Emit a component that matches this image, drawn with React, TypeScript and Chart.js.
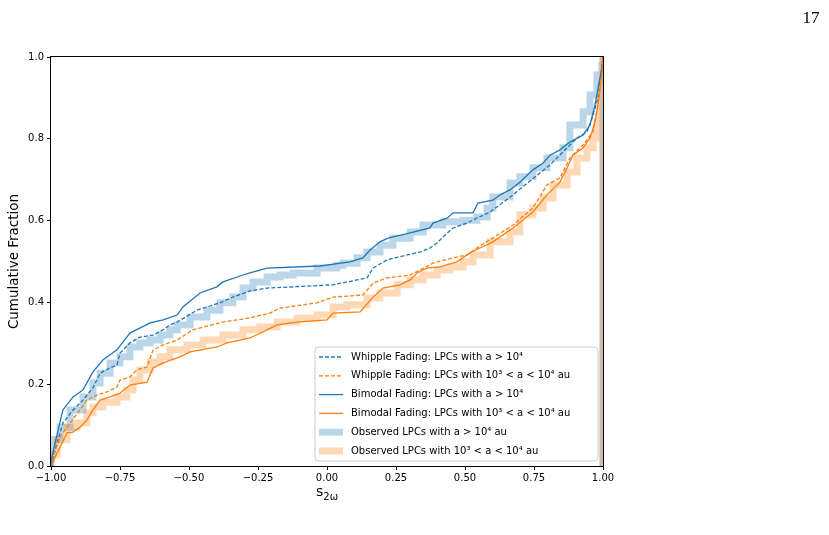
import { useEffect, useRef } from "react";
import { Chart, registerables } from "chart.js";

Chart.register(...registerables);

const BLUE = "#1f77b4";
const ORANGE = "#ff7f0e";
const BLUE_BAND = "rgba(31,119,180,0.3)";
const ORANGE_BAND = "rgba(255,127,14,0.3)";

// Axis ticks
const xTicks = [-1, -0.75, -0.5, -0.25, 0, 0.25, 0.5, 0.75, 1];
const yTicks = [0, 0.2, 0.4, 0.6, 0.8, 1];

// Whipple fading, a > 10^4
const whippleFarX = [-1, -0.978, -0.957, -0.92, -0.884, -0.848, -0.822, -0.786, -0.761, -0.75, -0.714, -0.678, -0.63, -0.594, -0.569, -0.543, -0.471, -0.388, -0.341, -0.279, -0.217, 0.022, 0.109, 0.145, 0.167, 0.217, 0.29, 0.337, 0.373, 0.399, 0.42, 0.457, 0.507, 0.543, 0.591, 0.674, 0.761, 0.808, 0.855, 0.906, 0.942, 0.964, 0.982, 1];
const whippleFarY = [0, 0.056, 0.105, 0.137, 0.161, 0.191, 0.227, 0.24, 0.247, 0.276, 0.301, 0.315, 0.32, 0.333, 0.345, 0.352, 0.381, 0.399, 0.413, 0.428, 0.435, 0.443, 0.455, 0.46, 0.484, 0.504, 0.516, 0.523, 0.533, 0.545, 0.56, 0.582, 0.594, 0.606, 0.621, 0.663, 0.711, 0.736, 0.768, 0.802, 0.817, 0.858, 0.9, 1];

// Whipple fading, 10^3 < a < 10^4 au
const whippleNearX = [-1, -0.993, -0.967, -0.931, -0.895, -0.87, -0.833, -0.797, -0.761, -0.75, -0.714, -0.688, -0.652, -0.63, -0.594, -0.543, -0.486, -0.377, -0.279, -0.207, -0.17, -0.036, 0.022, 0.13, 0.167, 0.217, 0.301, 0.337, 0.384, 0.457, 0.507, 0.543, 0.674, 0.746, 0.797, 0.844, 0.88, 0.928, 0.964, 0.982, 1];
const whippleNearY = [0, 0.022, 0.071, 0.105, 0.137, 0.161, 0.174, 0.181, 0.193, 0.21, 0.218, 0.235, 0.242, 0.284, 0.296, 0.308, 0.333, 0.352, 0.362, 0.374, 0.386, 0.399, 0.413, 0.418, 0.447, 0.46, 0.467, 0.479, 0.496, 0.509, 0.516, 0.533, 0.589, 0.631, 0.687, 0.704, 0.753, 0.785, 0.817, 0.883, 1];

// Bimodal fading, a > 10^4
const bimodalFarX = [-1, -0.997, -0.957, -0.92, -0.884, -0.848, -0.812, -0.761, -0.714, -0.641, -0.594, -0.543, -0.522, -0.46, -0.399, -0.377, -0.304, -0.279, -0.217, -0.025, 0.083, 0.13, 0.156, 0.192, 0.221, 0.301, 0.373, 0.384, 0.435, 0.457, 0.529, 0.547, 0.601, 0.627, 0.663, 0.699, 0.725, 0.746, 0.783, 0.808, 0.844, 0.88, 0.928, 0.953, 0.964, 0.971, 0.982, 0.996, 1];
const bimodalFarY = [0, 0.022, 0.137, 0.169, 0.186, 0.23, 0.259, 0.284, 0.325, 0.35, 0.357, 0.369, 0.389, 0.423, 0.438, 0.45, 0.467, 0.472, 0.484, 0.489, 0.499, 0.509, 0.528, 0.548, 0.557, 0.57, 0.582, 0.594, 0.606, 0.619, 0.619, 0.643, 0.65, 0.663, 0.675, 0.694, 0.711, 0.724, 0.741, 0.76, 0.773, 0.792, 0.809, 0.834, 0.863, 0.883, 0.924, 0.973, 1];

// Bimodal fading, 10^3 < a < 10^4 au
const bimodalNearX = [-1, -0.978, -0.967, -0.942, -0.92, -0.895, -0.87, -0.848, -0.822, -0.786, -0.75, -0.714, -0.652, -0.63, -0.594, -0.533, -0.496, -0.399, -0.362, -0.279, -0.217, -0.181, -0.109, 0, 0.022, 0.12, 0.167, 0.203, 0.264, 0.301, 0.326, 0.362, 0.409, 0.471, 0.518, 0.554, 0.601, 0.674, 0.746, 0.797, 0.844, 0.87, 0.891, 0.928, 0.953, 0.971, 0.982, 0.996, 1];
const bimodalNearY = [0, 0.032, 0.046, 0.081, 0.083, 0.095, 0.112, 0.137, 0.161, 0.169, 0.178, 0.198, 0.205, 0.24, 0.252, 0.267, 0.279, 0.291, 0.301, 0.313, 0.333, 0.345, 0.352, 0.357, 0.374, 0.377, 0.413, 0.435, 0.443, 0.455, 0.472, 0.484, 0.487, 0.499, 0.521, 0.533, 0.548, 0.582, 0.621, 0.663, 0.694, 0.729, 0.76, 0.778, 0.802, 0.841, 0.883, 0.956, 1];

// Observed LPCs, a > 10^4 au
const observedFarX = [-1, -1, -0.993, -0.967, -0.931, -0.884, -0.848, -0.822, -0.786, -0.75, -0.714, -0.678, -0.641, -0.605, -0.569, -0.543, -0.496, -0.435, -0.388, -0.341, -0.304, -0.268, -0.217, -0.17, -0.123, -0.036, 0.036, 0.058, 0.109, 0.145, 0.192, 0.239, 0.301, 0.348, 0.42, 0.493, 0.543, 0.58, 0.601, 0.663, 0.699, 0.746, 0.797, 0.855, 0.88, 0.928, 0.953, 0.978, 0.996, 1, 1];
const observedFarY = [0, 0.051, 0.064, 0.095, 0.137, 0.169, 0.203, 0.227, 0.252, 0.267, 0.291, 0.301, 0.308, 0.32, 0.333, 0.345, 0.364, 0.381, 0.399, 0.413, 0.435, 0.45, 0.462, 0.467, 0.472, 0.484, 0.491, 0.496, 0.509, 0.523, 0.54, 0.557, 0.572, 0.589, 0.597, 0.601, 0.609, 0.631, 0.658, 0.692, 0.707, 0.729, 0.753, 0.778, 0.834, 0.866, 0.907, 0.956, 0.98, 1, 0];

// Observed LPCs, 10^3 < a < 10^4 au
const observedNearX = [-1, -1, -0.978, -0.942, -0.906, -0.87, -0.848, -0.812, -0.761, -0.725, -0.703, -0.678, -0.641, -0.605, -0.569, -0.507, -0.449, -0.377, -0.304, -0.243, -0.181, -0.109, -0.036, 0.022, 0.072, 0.145, 0.192, 0.254, 0.301, 0.348, 0.399, 0.446, 0.493, 0.529, 0.591, 0.663, 0.699, 0.746, 0.783, 0.819, 0.87, 0.906, 0.942, 0.964, 0.978, 0.989, 1, 1, 1];
const observedNearY = [0, 0.027, 0.064, 0.095, 0.105, 0.13, 0.144, 0.156, 0.169, 0.186, 0.21, 0.235, 0.254, 0.267, 0.284, 0.296, 0.308, 0.32, 0.333, 0.34, 0.352, 0.362, 0.369, 0.389, 0.394, 0.411, 0.423, 0.443, 0.455, 0.467, 0.479, 0.487, 0.499, 0.516, 0.548, 0.572, 0.614, 0.631, 0.655, 0.687, 0.719, 0.753, 0.778, 0.802, 0.841, 0.9, 0.973, 1, 0];

const points = (xs: number[], ys: number[]) => xs.map((x, i) => ({ x, y: ys[i] }));

const FONT = "'DejaVu Sans', sans-serif";

const fmtX = (v: number) => Number(v).toFixed(2).replace("-", "\u2212");
const fmtY = (v: number) => Number(v).toFixed(1).replace("-", "\u2212");

// Frame, axis titles, legend box and the page number
const decorations = {
  id: "decorations",
  afterDatasetsDraw(chart: any) {
    const { ctx, chartArea: a } = chart;
    ctx.save();
    ctx.strokeStyle = "#000";
    ctx.lineWidth = 1;
    ctx.setLineDash([]);
    ctx.strokeRect(a.left - 0.5, a.top - 0.5, a.right - a.left + 1, a.bottom - a.top + 1);
    ctx.restore();
  },
  afterDraw(chart: any) {
    const { ctx, chartArea: a } = chart;
    ctx.save();

    // y axis title
    ctx.fillStyle = "#000";
    ctx.font = `13.5px ${FONT}`;
    ctx.textAlign = "center";
    ctx.textBaseline = "middle";
    ctx.translate(14, (a.top + a.bottom) / 2);
    ctx.rotate(-Math.PI / 2);
    ctx.fillText("Cumulative Fraction", 0, 0);
    ctx.setTransform(1, 0, 0, 1, 0, 0);

    // x axis title: s with subscript 2ω
    const cx = (a.left + a.right) / 2;
    ctx.textAlign = "left";
    ctx.textBaseline = "alphabetic";
    ctx.font = `14px ${FONT}`;
    const sW = ctx.measureText("s").width;
    ctx.font = `10px ${FONT}`;
    const subW = ctx.measureText("2\u03c9").width;
    const x0 = cx - (sW + subW) / 2;
    ctx.font = `14px ${FONT}`;
    ctx.fillText("s", x0, 496);
    ctx.font = `10px ${FONT}`;
    ctx.fillText("2\u03c9", x0 + sW, 500);

    // legend
    const items = chart.data.datasets;
    const boxL = 315, boxT = 347, boxW = 283, boxH = 114;
    ctx.beginPath();
    const r = 3;
    ctx.moveTo(boxL + r, boxT);
    ctx.arcTo(boxL + boxW, boxT, boxL + boxW, boxT + boxH, r);
    ctx.arcTo(boxL + boxW, boxT + boxH, boxL, boxT + boxH, r);
    ctx.arcTo(boxL, boxT + boxH, boxL, boxT, r);
    ctx.arcTo(boxL, boxT, boxL + boxW, boxT, r);
    ctx.closePath();
    ctx.fillStyle = "rgba(255,255,255,0.8)";
    ctx.fill();
    ctx.strokeStyle = "#cccccc";
    ctx.lineWidth = 1;
    ctx.stroke();

    ctx.font = `10px ${FONT}`;
    ctx.textBaseline = "middle";
    ctx.textAlign = "left";
    items.forEach((ds: any, i: number) => {
      const y = 357 + i * 18.8;
      ctx.beginPath();
      ctx.setLineDash(ds.borderDash || []);
      ctx.strokeStyle = ds.borderColor;
      ctx.lineWidth = ds.borderWidth;
      ctx.lineCap = "butt";
      ctx.moveTo(319, y);
      ctx.lineTo(343, y);
      ctx.stroke();
      ctx.setLineDash([]);
      ctx.fillStyle = "#000";
      ctx.fillText(ds.label, 351, y);
    });

    // page number
    ctx.font = "17px 'Liberation Serif', serif";
    ctx.textAlign = "center";
    ctx.textBaseline = "alphabetic";
    ctx.fillStyle = "#000";
    ctx.fillText("17", 811, 23);
    ctx.restore();
  },
};

export default function App() {
  const ref = useRef<HTMLCanvasElement | null>(null);

  useEffect(() => {
    if (!ref.current) return;
    const model = { pointRadius: 0, tension: 0, stepped: false, borderWidth: 1.3, fill: false, borderJoinStyle: "miter" as const };
    const band = { pointRadius: 0, tension: 0, stepped: "before" as const, borderWidth: 7, fill: false, clip: 0, borderJoinStyle: "miter" as const };
    // higher order is painted first, so the bands sit underneath the model curves
    const chart = new Chart(ref.current, {
      type: "line",
      data: {
        datasets: [
          { ...model, order: 3, label: "Whipple Fading: LPCs with a > 10\u2074", data: points(whippleFarX, whippleFarY), borderColor: BLUE, borderDash: [4, 2] },
          { ...model, order: 2, label: "Whipple Fading: LPCs with 10\u00b3 < a < 10\u2074 au", data: points(whippleNearX, whippleNearY), borderColor: ORANGE, borderDash: [4, 2] },
          { ...model, order: 1, label: "Bimodal Fading: LPCs with a > 10\u2074", data: points(bimodalFarX, bimodalFarY), borderColor: BLUE },
          { ...model, order: 0, label: "Bimodal Fading: LPCs with 10\u00b3 < a < 10\u2074 au", data: points(bimodalNearX, bimodalNearY), borderColor: ORANGE },
          { ...band, order: 5, label: "Observed LPCs with a > 10\u2074 au", data: points(observedFarX, observedFarY), borderColor: BLUE_BAND },
          { ...band, order: 4, label: "Observed LPCs with 10\u00b3 < a < 10\u2074 au", data: points(observedNearX, observedNearY), borderColor: ORANGE_BAND },
        ],
      },
      options: {
        animation: false,
        responsive: false,
        devicePixelRatio: 1,
        layout: { padding: { left: 0, top: 57, right: 226, bottom: 0 } },
        plugins: { legend: { display: false }, tooltip: { enabled: false } },
        scales: {
          x: {
            type: "linear",
            min: -1,
            max: 1,
            afterBuildTicks: (s: any) => { s.ticks = xTicks.map((value) => ({ value })); },
            afterFit: (s: any) => { s.height = 69; },
            ticks: { callback: (v: any) => fmtX(v), font: { family: FONT, size: 10 }, color: "#000", padding: 2, maxRotation: 0, autoSkip: false },
            grid: { drawOnChartArea: false, drawTicks: true, tickLength: 4, color: "#000" },
            border: { display: false },
          },
          y: {
            type: "linear",
            min: 0,
            max: 1,
            afterBuildTicks: (s: any) => { s.ticks = yTicks.map((value) => ({ value })); },
            afterFit: (s: any) => { s.width = 51; },
            ticks: { callback: (v: any) => fmtY(v), font: { family: FONT, size: 10 }, color: "#000", padding: 3, autoSkip: false },
            grid: { drawOnChartArea: false, drawTicks: true, tickLength: 4, color: "#000" },
            border: { display: false },
          },
        },
      },
      plugins: [decorations],
    } as any);
    return () => chart.destroy();
  }, []);

  return (
    <div style={{ position: "fixed", left: 0, top: 0, width: 829, height: 535, background: "#fff" }}>
      <canvas ref={ref} width={829} height={535} />
    </div>
  );
}
